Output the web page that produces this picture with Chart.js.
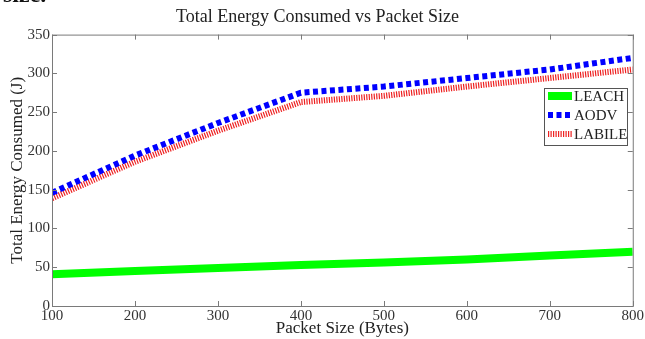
<!DOCTYPE html>
<html>
<head>
<meta charset="utf-8">
<script src="https://cdn.jsdelivr.net/npm/chart.js@4"></script>
<style>
  body { margin: 0; background: #fff; }
  #wrap { position: relative; width: 645px; height: 339px; overflow: hidden; }
  #cut { position: absolute; left: 3px; top: -19px; font: bold 24px "Liberation Serif", serif; color: #111; }
  canvas { position: absolute; left: 0; top: 0; }
</style>
</head>
<body>
<div id="wrap">
  <canvas id="myChart" width="645" height="339"></canvas>
  <div id="cut">size.</div>
</div>
<script>
// values
const packetSizes = [100, 200, 300, 400, 500, 600, 700, 800]
const leach = [41, 45, 49, 53, 56, 60, 65, 70]
const aodv = [146, 194, 236, 275, 283, 294, 305, 320]
const labile = [139, 186, 226, 263, 271, 283, 294, 305]
const yTicks = [0, 50, 100, 150, 200, 250, 300, 350]

const serif = "'Liberation Serif', 'Times New Roman', serif"

const toPoints = vals => packetSizes.map((x, i) => ({ x: x, y: vals[i] }))

// matlab style box with inward ticks
const boxPlugin = {
    id: 'box',
    afterDraw(chart) {
        const ctx = chart.ctx
        const a = chart.chartArea
        const xs = chart.scales.x
        const ys = chart.scales.y
        ctx.save()
        ctx.strokeStyle = '#7a7a7a'
        ctx.lineWidth = 1
        ctx.strokeRect(a.left + 0.5, a.top + 0.5, a.right - a.left, a.bottom - a.top)
        ctx.beginPath()
        xs.ticks.forEach(t => {
            const px = Math.round(xs.getPixelForValue(t.value)) + 0.5
            ctx.moveTo(px, a.bottom); ctx.lineTo(px, a.bottom - 5)
            ctx.moveTo(px, a.top); ctx.lineTo(px, a.top + 5)
        })
        ys.ticks.forEach(t => {
            const py = Math.round(ys.getPixelForValue(t.value)) + 0.5
            ctx.moveTo(a.left, py); ctx.lineTo(a.left + 5, py)
            ctx.moveTo(a.right, py); ctx.lineTo(a.right - 5, py)
        })
        ctx.stroke()

        // legend box inside the plot
        const bx = 544, by = 88, bw = 83, bh = 57
        ctx.fillStyle = '#fff'
        ctx.fillRect(bx, by, bw, bh)
        ctx.strokeStyle = '#555'
        ctx.strokeRect(bx + 0.5, by + 0.5, bw, bh)
        ctx.font = '15px ' + serif
        ctx.textBaseline = 'middle'
        chart.data.datasets.forEach((ds, i) => {
            const ly = by + 8 + i * 19
            ctx.save()
            ctx.strokeStyle = ds.borderColor
            ctx.lineWidth = ds.borderWidth
            ctx.setLineDash(ds.borderDash || [])
            ctx.beginPath()
            ctx.moveTo(bx + 4, ly)
            ctx.lineTo(bx + 28, ly)
            ctx.stroke()
            ctx.restore()
            ctx.fillStyle = '#222'
            ctx.fillText(ds.label, bx + 30, ly + 1)
        })
        ctx.restore()
    }
}

new Chart(document.getElementById('myChart').getContext('2d'), {
    type: 'line',
    data: {
        datasets: [
            { label: 'LEACH', data: toPoints(leach), borderColor: '#00ff00', borderWidth: 8, pointRadius: 0 },
            { label: 'AODV', data: toPoints(aodv), borderColor: '#0000ff', borderWidth: 6, borderDash: [5, 3.5], pointRadius: 0 },
            { label: 'LABILE', data: toPoints(labile), borderColor: '#ee2222', borderWidth: 6, borderDash: [1.2, 1.3], pointRadius: 0 }
        ]
    },
    options: {
        responsive: false,
        animation: false,
        layout: { padding: { top: 0, right: 10, left: 0, bottom: 0 } },
        plugins: {
            legend: { display: false },
            tooltip: { enabled: false },
            title: {
                display: true,
                text: 'Total Energy Consumed vs Packet Size',
                color: '#222',
                font: { family: serif, size: 18, weight: 'normal' },
                padding: { top: 6, bottom: 7 }
            }
        },
        scales: {
            x: {
                type: 'linear',
                min: 100,
                max: 800,
                afterFit: s => { s.height = 33 },
                grid: { display: false, drawTicks: false, tickLength: 0 },
                border: { display: false },
                ticks: { stepSize: 100, color: '#333', padding: 1, maxRotation: 0, font: { family: serif, size: 15 } },
                title: { display: true, text: 'Packet Size (Bytes)', color: '#222', padding: 0, font: { family: serif, size: 17 } }
            },
            y: {
                min: 0,
                max: 350,
                afterFit: s => { s.width = 52 },
                afterBuildTicks: s => { s.ticks = yTicks.map(v => ({ value: v })) },
                grid: { display: false, drawTicks: false, tickLength: 0 },
                border: { display: false },
                ticks: { color: '#333', padding: 2, font: { family: serif, size: 15 } },
                title: { display: true, text: 'Total Energy Consumed (J)', color: '#222', padding: { top: 7, bottom: 0 }, font: { family: serif, size: 17 } }
            }
        }
    },
    plugins: [boxPlugin]
})
</script>
</body>
</html>
